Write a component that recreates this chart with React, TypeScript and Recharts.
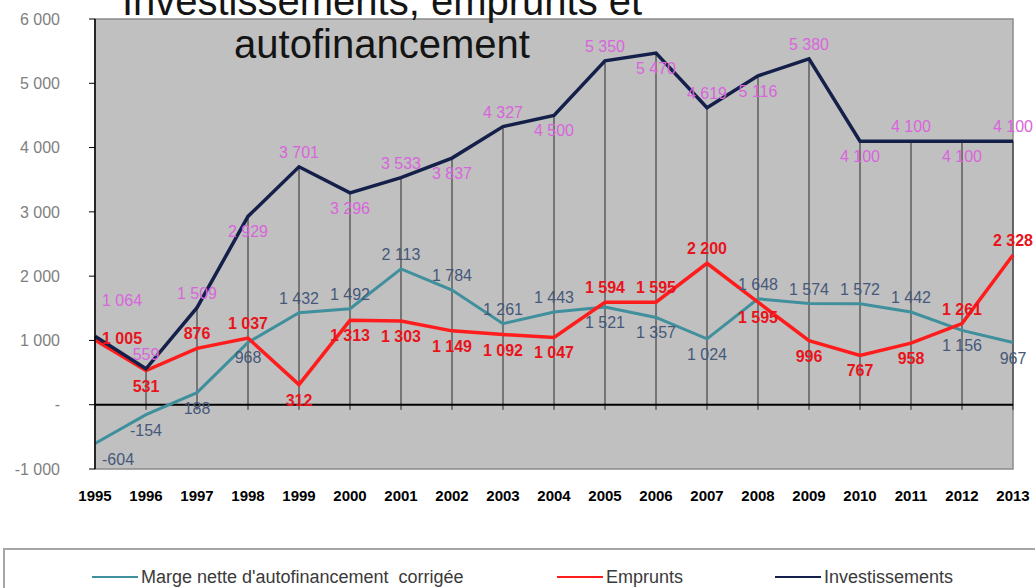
import React from 'react';
import {
  LineChart, Line, XAxis, YAxis, CartesianGrid, ReferenceLine, ReferenceArea, LabelList, Legend,
} from 'recharts';

const years = ['1995', '1996', '1997', '1998', '1999', '2000', '2001', '2002', '2003', '2004', '2005', '2006', '2007', '2008', '2009', '2010', '2011', '2012', '2013'];
const marge = [-604, -154, 188, 968, 1432, 1492, 2113, 1784, 1261, 1443, 1521, 1357, 1024, 1648, 1574, 1572, 1442, 1156, 967];
const emprunts = [1005, 531, 876, 1037, 312, 1313, 1303, 1149, 1092, 1047, 1594, 1595, 2200, 1595, 996, 767, 958, 1261, 2328];
const invest = [1064, 559, 1509, 2929, 3701, 3296, 3533, 3837, 4327, 4500, 5350, 5470, 4619, 5116, 5380, 4100, 4100, 4100, 4100];
const yTicks = [-1000, 0, 1000, 2000, 3000, 4000, 5000, 6000];
const titleLines = ['Investissements, emprunts et', 'autofinancement'];
const seriesNames = ["Marge nette d'autofinancement  corrigée", 'Emprunts', 'Investissements'];

const FONT = '"Liberation Sans", Arial, sans-serif';
const C_MARGE = '#3f8f9c';
const C_EMP = '#ff1c1c';
const C_INV = '#15204a';
const TICK_DROP = -80;

const data = years.map((y, i) => ({ year: y, marge: marge[i], emprunts: emprunts[i], invest: invest[i] }));

function fmt(v: number): string {
  const sign = v < 0 ? '-' : '';
  const a = Math.abs(v);
  if (a >= 1000) {
    const th = Math.floor(a / 1000);
    const rest = String(a % 1000).padStart(3, '0');
    return `${sign}${th} ${rest}`;
  }
  return `${sign}${a}`;
}

function makeLabel(color: string, bold: boolean, isAbove: (i: number) => boolean, firstDy: number | null) {
  return (props: any) => {
    const { x, y, value, index } = props;
    if (x == null || y == null) return null;
    const above = isAbove(index);
    const first = index === 0;
    let ty = above ? y - 9 : y + 21;
    if (first && firstDy != null) ty = y + firstDy;
    return (
      <text
        x={x + (first ? 7 : 0)}
        y={ty}
        textAnchor={first ? 'start' : 'middle'}
        fill={color}
        fontSize={16}
        fontWeight={bold ? 'bold' : 'normal'}
        fontFamily={FONT}
      >
        {fmt(Number(value))}
      </text>
    );
  };
}

const legendItems = [
  { name: seriesNames[0], color: C_MARGE, left: 87 },
  { name: seriesNames[1], color: C_EMP, left: 552 },
  { name: seriesNames[2], color: C_INV, left: 770 },
];

function LegendContent() {
  return (
    <div style={{ position: 'relative', width: '100%', height: '100%', fontFamily: FONT }}>
      {legendItems.map((it) => (
        <div key={it.name} style={{ position: 'absolute', left: it.left, top: 17, height: 20, display: 'flex', alignItems: 'center', whiteSpace: 'pre' }}>
          <svg width={46} height={20} style={{ display: 'block' }}>
            <line x1={0} y1={10} x2={46} y2={10} stroke={it.color} strokeWidth={2} />
          </svg>
          <span style={{ marginLeft: 3, fontSize: 18, color: '#3a3a3a', lineHeight: '20px' }}>{it.name}</span>
        </div>
      ))}
    </div>
  );
}

const empAbove = (i: number) => emprunts[i] > marge[i] && !(emprunts[i] < invest[i] && invest[i] - emprunts[i] < 100);
const margeAbove = (i: number) => marge[i] >= emprunts[i];
const invAbove = (i: number) => i % 2 === 0 || i < 2;

export default function App() {
  return (
    <div style={{ position: 'absolute', left: 0, top: 0, width: 1035, height: 588, overflow: 'hidden', background: '#fff' }}>
      <LineChart width={1035} height={588} data={data} margin={{ top: 19, right: 22, left: 0, bottom: 0 }}>
        <CartesianGrid fill="#c0c0c0" stroke="none" horizontal={false} vertical={false} />
        <ReferenceArea x1="1995" x2="2013" y1={-1000} y2={6000} fill="none" fillOpacity={0} stroke="#8a8a8a" strokeWidth={1.5} />
        {data.map((d) => (
          <ReferenceLine
            key={'drop' + d.year}
            segment={[{ x: d.year, y: d.invest }, { x: d.year, y: TICK_DROP }]}
            stroke="#2a2a2a"
            strokeWidth={1}
          />
        ))}
        <ReferenceLine y={0} stroke="#000" strokeWidth={2} />
        <XAxis
          dataKey="year"
          type="category"
          interval={0}
          axisLine={false}
          tickLine={false}
          tickSize={6}
          tickMargin={15}
          height={74}
          tick={{ fontSize: 15, fontWeight: 'bold', fill: '#000', fontFamily: FONT }}
        />
        <YAxis
          type="number"
          domain={[-1000, 6000]}
          ticks={yTicks}
          width={95}
          axisLine={{ stroke: '#000', strokeWidth: 1.5 }}
          tickLine={{ stroke: '#000' }}
          tickSize={6}
          tickMargin={29}
          tickFormatter={(v: number) => (v === 0 ? '-' : fmt(v))}
          tick={{ fontSize: 16, fill: '#808080', fontFamily: FONT }}
          interval={0}
        />
        <Line dataKey="marge" name={seriesNames[0]} stroke={C_MARGE} strokeWidth={3} dot={false} isAnimationActive={false}>
          <LabelList dataKey="marge" content={makeLabel('#46587a', false, margeAbove, null)} />
        </Line>
        <Line dataKey="emprunts" name={seriesNames[1]} stroke={C_EMP} strokeWidth={3.5} dot={false} isAnimationActive={false}>
          <LabelList dataKey="emprunts" content={makeLabel('#e8141c', true, empAbove, 4)} />
        </Line>
        <Line dataKey="invest" name={seriesNames[2]} stroke={C_INV} strokeWidth={3.5} dot={false} isAnimationActive={false}>
          <LabelList dataKey="invest" content={makeLabel('#d865dc', false, invAbove, -30)} />
        </Line>
        <Legend
          verticalAlign="bottom"
          content={() => <LegendContent />}
          wrapperStyle={{ left: 3, top: 548, width: 1040, height: 45, border: '2px solid #a6a6a6', boxSizing: 'border-box', background: '#fff' }}
        />
      </LineChart>
      <svg width={1035} height={80} style={{ position: 'absolute', left: 0, top: 0, pointerEvents: 'none' }}>
        <text x={382} y={15} textAnchor="middle" fontSize={40} fontFamily={FONT} fill="#141414">{titleLines[0]}</text>
        <text x={382} y={58} textAnchor="middle" fontSize={40} fontFamily={FONT} fill="#141414">{titleLines[1]}</text>
      </svg>
    </div>
  );
}
